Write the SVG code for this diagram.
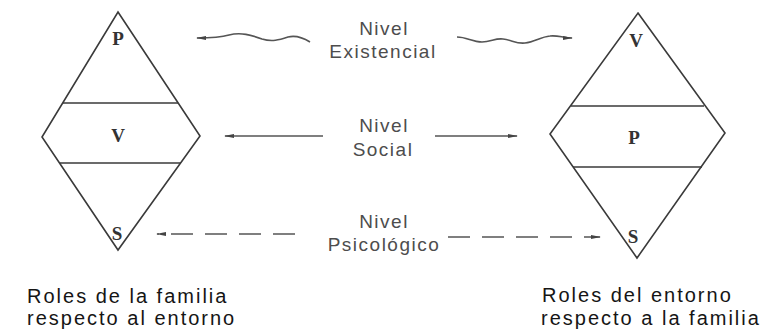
<svg xmlns="http://www.w3.org/2000/svg" width="764" height="330" viewBox="0 0 764 330">
<style>
.dia{fill:none;stroke:#3a3a3a;stroke-width:1.6;stroke-linejoin:miter}
.band{stroke:#3a3a3a;stroke-width:1.6}
.let{font-family:"Liberation Serif",serif;font-weight:bold;font-size:19px;fill:#333;text-anchor:middle}
.lvl{font-family:"Liberation Sans",Arial,sans-serif;font-size:19px;letter-spacing:1.5px;fill:#4d4d4d;text-anchor:middle}
.cap{font-family:"Liberation Sans",Arial,sans-serif;font-size:20px;letter-spacing:2px;fill:#151515}
.con{fill:none;stroke:#555;stroke-width:1.6;marker-end:url(#ah)}
.dash{stroke-dasharray:22 12}
</style>
<defs>
<marker id="ah" viewBox="0 0 10 5" refX="9" refY="2.5" markerWidth="11" markerHeight="5" markerUnits="userSpaceOnUse" orient="auto">
<path d="M0,0.5 L10,2.5 L0,4.5 Z" fill="#444"/>
</marker>
</defs>
<g id="left-diamond">
<polygon class="dia" points="118,12 200,136 118,250 42,137"/>
<line class="band" x1="63" y1="103" x2="178" y2="103"/>
<line class="band" x1="60" y1="163" x2="181" y2="163"/>
<text class="let" x="118" y="45">P</text>
<text class="let" x="118" y="142">V</text>
<text class="let" x="117" y="240">S</text>
</g>
<g id="right-diamond">
<polygon class="dia" points="638,13 725,133 637,258 550,134"/>
<line class="band" x1="571" y1="106" x2="704" y2="106"/>
<line class="band" x1="573" y1="167" x2="702" y2="167"/>
<text class="let" x="636" y="47">V</text>
<text class="let" x="634" y="144">P</text>
<text class="let" x="633" y="243">S</text>
</g>
<g id="level-existencial">
<text class="lvl" x="384" y="35">Nivel</text>
<text class="lvl" x="383" y="58">Existencial</text>
</g>
<g id="level-social">
<text class="lvl" x="384" y="132">Nivel</text>
<text class="lvl" x="383" y="156">Social</text>
</g>
<g id="level-psicologico">
<text class="lvl" x="384" y="228">Nivel</text>
<text class="lvl" x="384" y="251">Psicológico</text>
</g>
<g id="caption-left">
<text class="cap" x="27" y="303">Roles de la familia</text>
<text class="cap" x="27" y="325">respecto al entorno</text>
</g>
<g id="caption-right">
<text class="cap" x="542" y="302">Roles del entorno</text>
<text class="cap" x="541" y="325">respecto a la familia</text>
</g>
<g id="connectors">
<path class="con" d="M310,42 C302,37 296,35 288,37 C279,40 272,42 262,39 C251,35 241,32 229,35 C219,38 210,38 197,38"/>
<path class="con" d="M457,37 C467,37 472,42 482,42 C491,42 495,38 503,39 C512,40 516,44 525,43 C535,42 540,37 550,36 C558,35 563,38 572,38"/>
<path class="con" d="M323,136 L225,136"/>
<path class="con" d="M435,136 L517,136"/>
<path class="con dash" d="M295,234 L157,234"/>
<path class="con dash" d="M448,237 L600,237"/>
</g>
</svg>
